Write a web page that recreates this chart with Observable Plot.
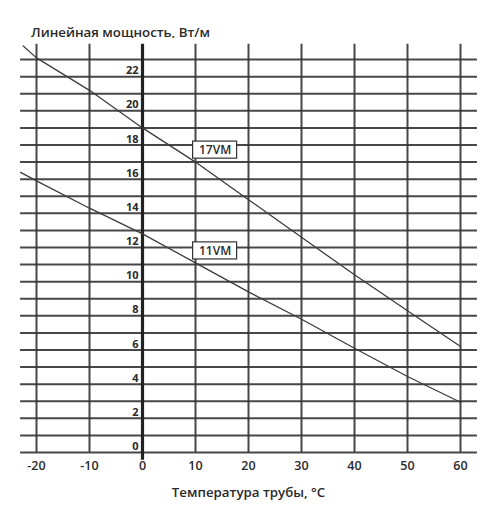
<!DOCTYPE html>
<html>
<head>
<meta charset="utf-8">
<script src="https://cdn.jsdelivr.net/npm/d3@7"></script>
<script src="https://cdn.jsdelivr.net/npm/@observablehq/plot@0.6"></script>
<style>
  html, body { margin: 0; padding: 0; background: #fff; }
  #wrap { width: 500px; height: 527px; position: relative; font-family: "Open Sans", sans-serif; }
  #title { position: absolute; left: 31px; top: 23px; font-size: 13.3px; font-weight: 600; color: #2a2a2a; white-space: nowrap; }
  #chart { position: absolute; left: 0; top: 38px; }
</style>
</head>
<body>
<div id="wrap">
  <div id="title">Линейная мощность, Вт/м</div>
  <div id="chart"></div>
</div>
<script>
// Temperature (°C) sample points
const temps17 = [-22.5, -20, -10, 0, 10, 20, 30, 40, 50, 60];
const power17 = [23.8, 23.1, 21.2, 19.0, 17.0, 14.8, 12.6, 10.4, 8.3, 6.2];
const temps11 = [-23, -20, -10, 0, 10, 20, 30, 40, 50, 60];
const power11 = [16.4, 15.9, 14.3, 12.8, 11.1, 9.4, 7.8, 6.1, 4.45, 2.94];

const xTicks = [-20, -10, 0, 10, 20, 30, 40, 50, 60];
const yTicks = [0, 2, 4, 6, 8, 10, 12, 14, 16, 18, 20, 22];
const yGrid = d3.range(0, 24); // 0..23
const seriesNames = ["17VM", "11VM"];
const labelTemp = [13.7, 13.7];
const labelPower = [17.7, 11.8];

const lines = [
  ...temps17.map((t, i) => ({series: "17VM", t, p: power17[i]})),
  ...temps11.map((t, i) => ({series: "11VM", t, p: power11[i]}))
];
const labels = seriesNames.map((s, i) => ({s, t: labelTemp[i], p: labelPower[i]}));

const gridColor = "#333";
const font = "'Open Sans', sans-serif";

const plot = Plot.plot({
  width: 500,
  height: 489,
  marginLeft: 36,
  marginRight: 40,
  marginTop: 4,
  marginBottom: 75,
  style: {fontFamily: font, background: "#fff", overflow: "visible"},
  x: {domain: [-20, 60], ticks: xTicks},
  y: {domain: [0, 24]},
  marks: [
    // horizontal grid lines (extend past the plotting range)
    Plot.ruleY(yGrid, {x1: -23, x2: 63.2, stroke: gridColor, strokeWidth: 2, strokeOpacity: 0.9}),
    // vertical grid lines
    Plot.ruleX(xTicks.filter(d => d !== 0), {y1: 0, y2: 23.9, stroke: gridColor, strokeWidth: 2, strokeOpacity: 0.9}),
    Plot.ruleX([0], {y1: -0.45, y2: 23.9, stroke: "#222", strokeWidth: 3.2}),
    // data lines
    Plot.line(lines, {x: "t", y: "p", z: "series", stroke: "#3c3c3c", strokeWidth: 1.3}),
    // series label boxes
    Plot.rect(labels, {x1: d => d.t - 4.15, x2: d => d.t + 4.15, y1: d => d.p - 0.5, y2: d => d.p + 0.5, fill: "#fff", stroke: "#333", strokeWidth: 1.2}),
    Plot.text(labels, {x: "t", y: "p", text: "s", fontSize: 12, fontWeight: 600, fill: "#2a2a2a", fontFamily: font}),
    // y tick labels next to the zero line
    Plot.text(yTicks, {x: 0, y: d => d, text: d => String(d), textAnchor: "end", dx: -4, dy: -6, fontSize: 11, fontWeight: 700, fill: "#2a2a2a", fontFamily: font}),
    // x axis
    Plot.axisX({ticks: xTicks, tickFormat: d => String(d), tickSize: 0, tickPadding: 9, fontSize: 12, fontWeight: 600,
      label: "Температура трубы, °C", labelAnchor: "center", labelArrow: "none", labelOffset: 44}),
    Plot.axisY({ticks: [], label: null})
  ]
});

d3.select(plot).selectAll("[aria-label='x-axis tick label'] text, [aria-label='x-axis label'] text").attr("fill", "#2a2a2a");
d3.select(plot).selectAll("[aria-label='x-axis tick label']").attr("font-weight", 600).attr("font-size", 12.5);
d3.select(plot).selectAll("[aria-label='x-axis label']").attr("font-size", 13.3).attr("font-weight", 600).attr("fill", "#2a2a2a");
document.getElementById("chart").appendChild(plot);
</script>
</body>
</html>
